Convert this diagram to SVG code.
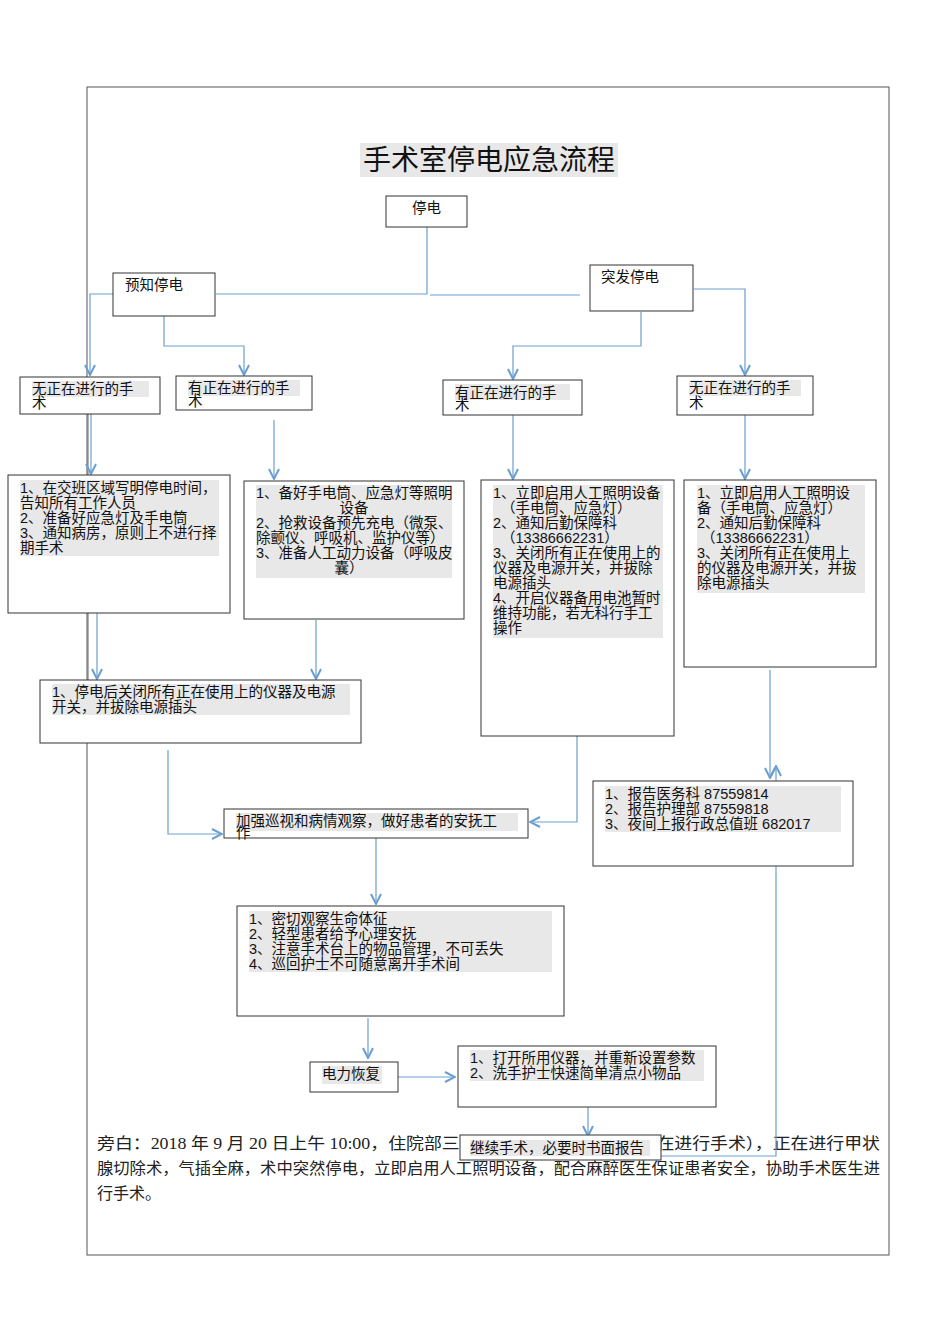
<svg xmlns="http://www.w3.org/2000/svg" width="950" height="1344" viewBox="0 0 950 1344">
<style>
.b{fill:#fff;stroke:#333;stroke-width:1}
.h{fill:#e8e8e8}
.t{font-family:"Liberation Sans","Noto Sans CJK SC",sans-serif;font-size:14.5px;fill:#111}
.c{fill:none;stroke:#6a9fd0;stroke-width:1.2}
.n{font-family:"Liberation Serif","Noto Sans CJK SC",serif;font-size:16px;fill:#222}
</style>
<defs><marker id="a" viewBox="0 0 12 12" refX="11" refY="6" markerWidth="12" markerHeight="12" markerUnits="userSpaceOnUse" orient="auto"><path d="M1,1 L11,6 L1,11" fill="none" stroke="#6a9fd0" stroke-width="2"/></marker></defs>
<rect x="0" y="0" width="950" height="1344" fill="#fff"/>
<rect x="87" y="87" width="802" height="1168" fill="none" stroke="#555"/>
<g id="title"><rect class="h" x="360" y="143" width="258" height="34"/><text x="489" y="170" text-anchor="middle" style="font-family:'Liberation Sans','Noto Sans CJK SC',sans-serif;font-size:28px;fill:#111">手术室停电应急流程</text></g>
<g id="narration" class="n">
<text x="97" y="1149" textLength="783" lengthAdjust="spacingAndGlyphs">旁白：2018 年 9 月 20 日上午 10:00，住院部三楼手术室（一号手术间正在进行手术），正在进行甲状</text>
<text x="97" y="1174" textLength="783" lengthAdjust="spacingAndGlyphs">腺切除术，气插全麻，术中突然停电，立即启用人工照明设备，配合麻醉医生保证患者安全，协助手术医生进</text>
<text x="97" y="1199">行手术。</text>
</g>
<g id="connectors">
<path class="c" d="M427,227 V294 H216"/>
<path class="c" d="M430,295 H580"/>
<path class="c" d="M113,294 H90 V375" marker-end="url(#a)"/>
<path class="c" d="M164,316 V346 H244 V375" marker-end="url(#a)"/>
<path class="c" d="M641,312 V346 H513 V379" marker-end="url(#a)"/>
<path class="c" d="M694,289 H745 V375" marker-end="url(#a)"/>
<path d="M88,414 V475 M88,613 V680" stroke="#666" fill="none"/>
<path class="c" d="M91,414 V474" marker-end="url(#a)"/>
<path class="c" d="M274,420 V479" marker-end="url(#a)"/>
<path class="c" d="M513,415 V479" marker-end="url(#a)"/>
<path class="c" d="M745,415 V479" marker-end="url(#a)"/>
<path class="c" d="M97,613 V679" marker-end="url(#a)"/>
<path class="c" d="M316,620 V679" marker-end="url(#a)"/>
<path class="c" d="M168,750 V834 H222" marker-end="url(#a)"/>
<path class="c" d="M577,736 V822 H530" marker-end="url(#a)"/>
<path class="c" d="M770,670 V778" marker-end="url(#a)"/>
<path class="c" d="M661,1156 H776 V766" marker-end="url(#a)"/>
<path class="c" d="M376,838 V904" marker-end="url(#a)"/>
<path class="c" d="M368,1018 V1058" marker-end="url(#a)"/>
<path class="c" d="M398,1077 H455" marker-end="url(#a)"/>
<path class="c" d="M588,1107 V1136" marker-end="url(#a)"/>
</g>
<g id="n-tingdian"><rect class="b" x="386" y="196" width="81" height="31"/><text class="t" x="412" y="213">停电</text></g>
<g id="n-yuzhi"><rect class="b" x="113" y="273" width="102" height="43"/><text class="t" x="125" y="290">预知停电</text></g>
<g id="n-tufa"><rect class="b" x="590" y="265" width="103" height="46"/><text class="t" x="601" y="282">突发停电</text></g>
<g id="n-l1"><rect class="b" x="20" y="377" width="140" height="37"/><rect class="h" x="32" y="381" width="117" height="16"/><text class="t" x="32" y="394">无正在进行的手</text><text class="t" x="32" y="408">术</text></g>
<g id="n-l2"><rect class="b" x="176" y="376" width="136" height="34"/><rect class="h" x="188" y="380" width="112" height="16"/><text class="t" x="188" y="393">有正在进行的手</text><text class="t" x="188" y="406">术</text></g>
<g id="n-r1"><rect class="b" x="443" y="380" width="139" height="35"/><rect class="h" x="455" y="384" width="115" height="16"/><text class="t" x="455" y="398">有正在进行的手</text><text class="t" x="455" y="410">术</text></g>
<g id="n-r2"><rect class="b" x="677" y="376" width="136" height="39"/><rect class="h" x="689" y="380" width="112" height="16"/><text class="t" x="689" y="393">无正在进行的手</text><text class="t" x="689" y="408">术</text></g>
<g id="n-a"><rect class="b" x="8" y="475" width="222" height="138"/><rect class="h" x="20" y="480" width="199" height="76"/>
<text class="t" x="20" y="493">1、在交班区域写明停电时间，</text><text class="t" x="20" y="508">告知所有工作人员</text><text class="t" x="20" y="523">2、准备好应急灯及手电筒</text><text class="t" x="20" y="538">3、通知病房，原则上不进行择</text><text class="t" x="20" y="553">期手术</text></g>
<g id="n-b"><rect class="b" x="244" y="481" width="220" height="138"/><rect class="h" x="256" y="485" width="196" height="93"/>
<text class="t" x="256" y="498">1、备好手电筒、应急灯等照明</text><text class="t" x="354" y="513" text-anchor="middle">设备</text><text class="t" x="256" y="528">2、抢救设备预先充电（微泵、</text><text class="t" x="256" y="543">除颤仪、呼吸机、监护仪等）</text><text class="t" x="256" y="558">3、准备人工动力设备（呼吸皮</text><text class="t" x="349" y="573" text-anchor="middle">囊）</text></g>
<g id="n-c"><rect class="b" x="481" y="480" width="193" height="256"/><rect class="h" x="493" y="485" width="170" height="153"/>
<text class="t" x="493" y="498">1、立即启用人工照明设备</text><text class="t" x="501" y="513">（手电筒、应急灯）</text><text class="t" x="493" y="528">2、通知后勤保障科</text><text class="t" x="501" y="543">（13386662231）</text><text class="t" x="493" y="558">3、关闭所有正在使用上的</text><text class="t" x="493" y="573">仪器及电源开关，并拔除</text><text class="t" x="493" y="588">电源插头</text><text class="t" x="493" y="603">4、开启仪器备用电池暂时</text><text class="t" x="493" y="618">维持功能，若无科行手工</text><text class="t" x="493" y="633">操作</text></g>
<g id="n-d"><rect class="b" x="684" y="480" width="192" height="187"/><rect class="h" x="697" y="485" width="168" height="108"/>
<text class="t" x="697" y="498">1、立即启用人工照明设</text><text class="t" x="697" y="513">备（手电筒、应急灯）</text><text class="t" x="697" y="528">2、通知后勤保障科</text><text class="t" x="701" y="543">（13386662231）</text><text class="t" x="697" y="558">3、关闭所有正在使用上</text><text class="t" x="697" y="573">的仪器及电源开关，并拔</text><text class="t" x="697" y="588">除电源插头</text></g>
<g id="n-e"><rect class="b" x="40" y="680" width="321" height="63"/><rect class="h" x="52" y="684" width="298" height="31"/>
<text class="t" x="52" y="697">1、停电后关闭所有正在使用上的仪器及电源</text><text class="t" x="52" y="712">开关，并拔除电源插头</text></g>
<g id="n-f"><rect class="b" x="224" y="809" width="304" height="29"/><rect class="h" x="236" y="813" width="282" height="18"/><text class="t" x="236" y="826">加强巡视和病情观察，做好患者的安抚工</text><text class="t" x="236" y="838">作</text></g>
<g id="n-g"><rect class="b" x="593" y="781" width="260" height="85"/><rect class="h" x="605" y="786" width="236" height="46"/>
<text class="t" x="605" y="799">1、报告医务科 87559814</text><text class="t" x="605" y="814">2、报告护理部 87559818</text><text class="t" x="605" y="829">3、夜间上报行政总值班 682017</text></g>
<g id="n-h"><rect class="b" x="237" y="906" width="327" height="110"/><rect class="h" x="249" y="911" width="303" height="61"/>
<text class="t" x="249" y="924">1、密切观察生命体征</text><text class="t" x="249" y="939">2、轻型患者给予心理安抚</text><text class="t" x="249" y="954">3、注意手术台上的物品管理，不可丢失</text><text class="t" x="249" y="969">4、巡回护士不可随意离开手术间</text></g>
<g id="n-power"><rect class="b" x="310" y="1062" width="88" height="30"/><rect class="h" x="322" y="1066" width="60" height="18"/><text class="t" x="322" y="1079">电力恢复</text></g>
<g id="n-i"><rect class="b" x="458" y="1046" width="258" height="61"/><rect class="h" x="470" y="1050" width="234" height="31"/>
<text class="t" x="470" y="1063">1、打开所用仪器，并重新设置参数</text><text class="t" x="470" y="1078">2、洗手护士快速简单清点小物品</text></g>
<g id="n-j"><rect class="b" x="460" y="1135" width="201" height="25"/><rect class="h" x="470" y="1140" width="180" height="16"/><text class="t" x="470" y="1153">继续手术，必要时书面报告</text></g>
</svg>
